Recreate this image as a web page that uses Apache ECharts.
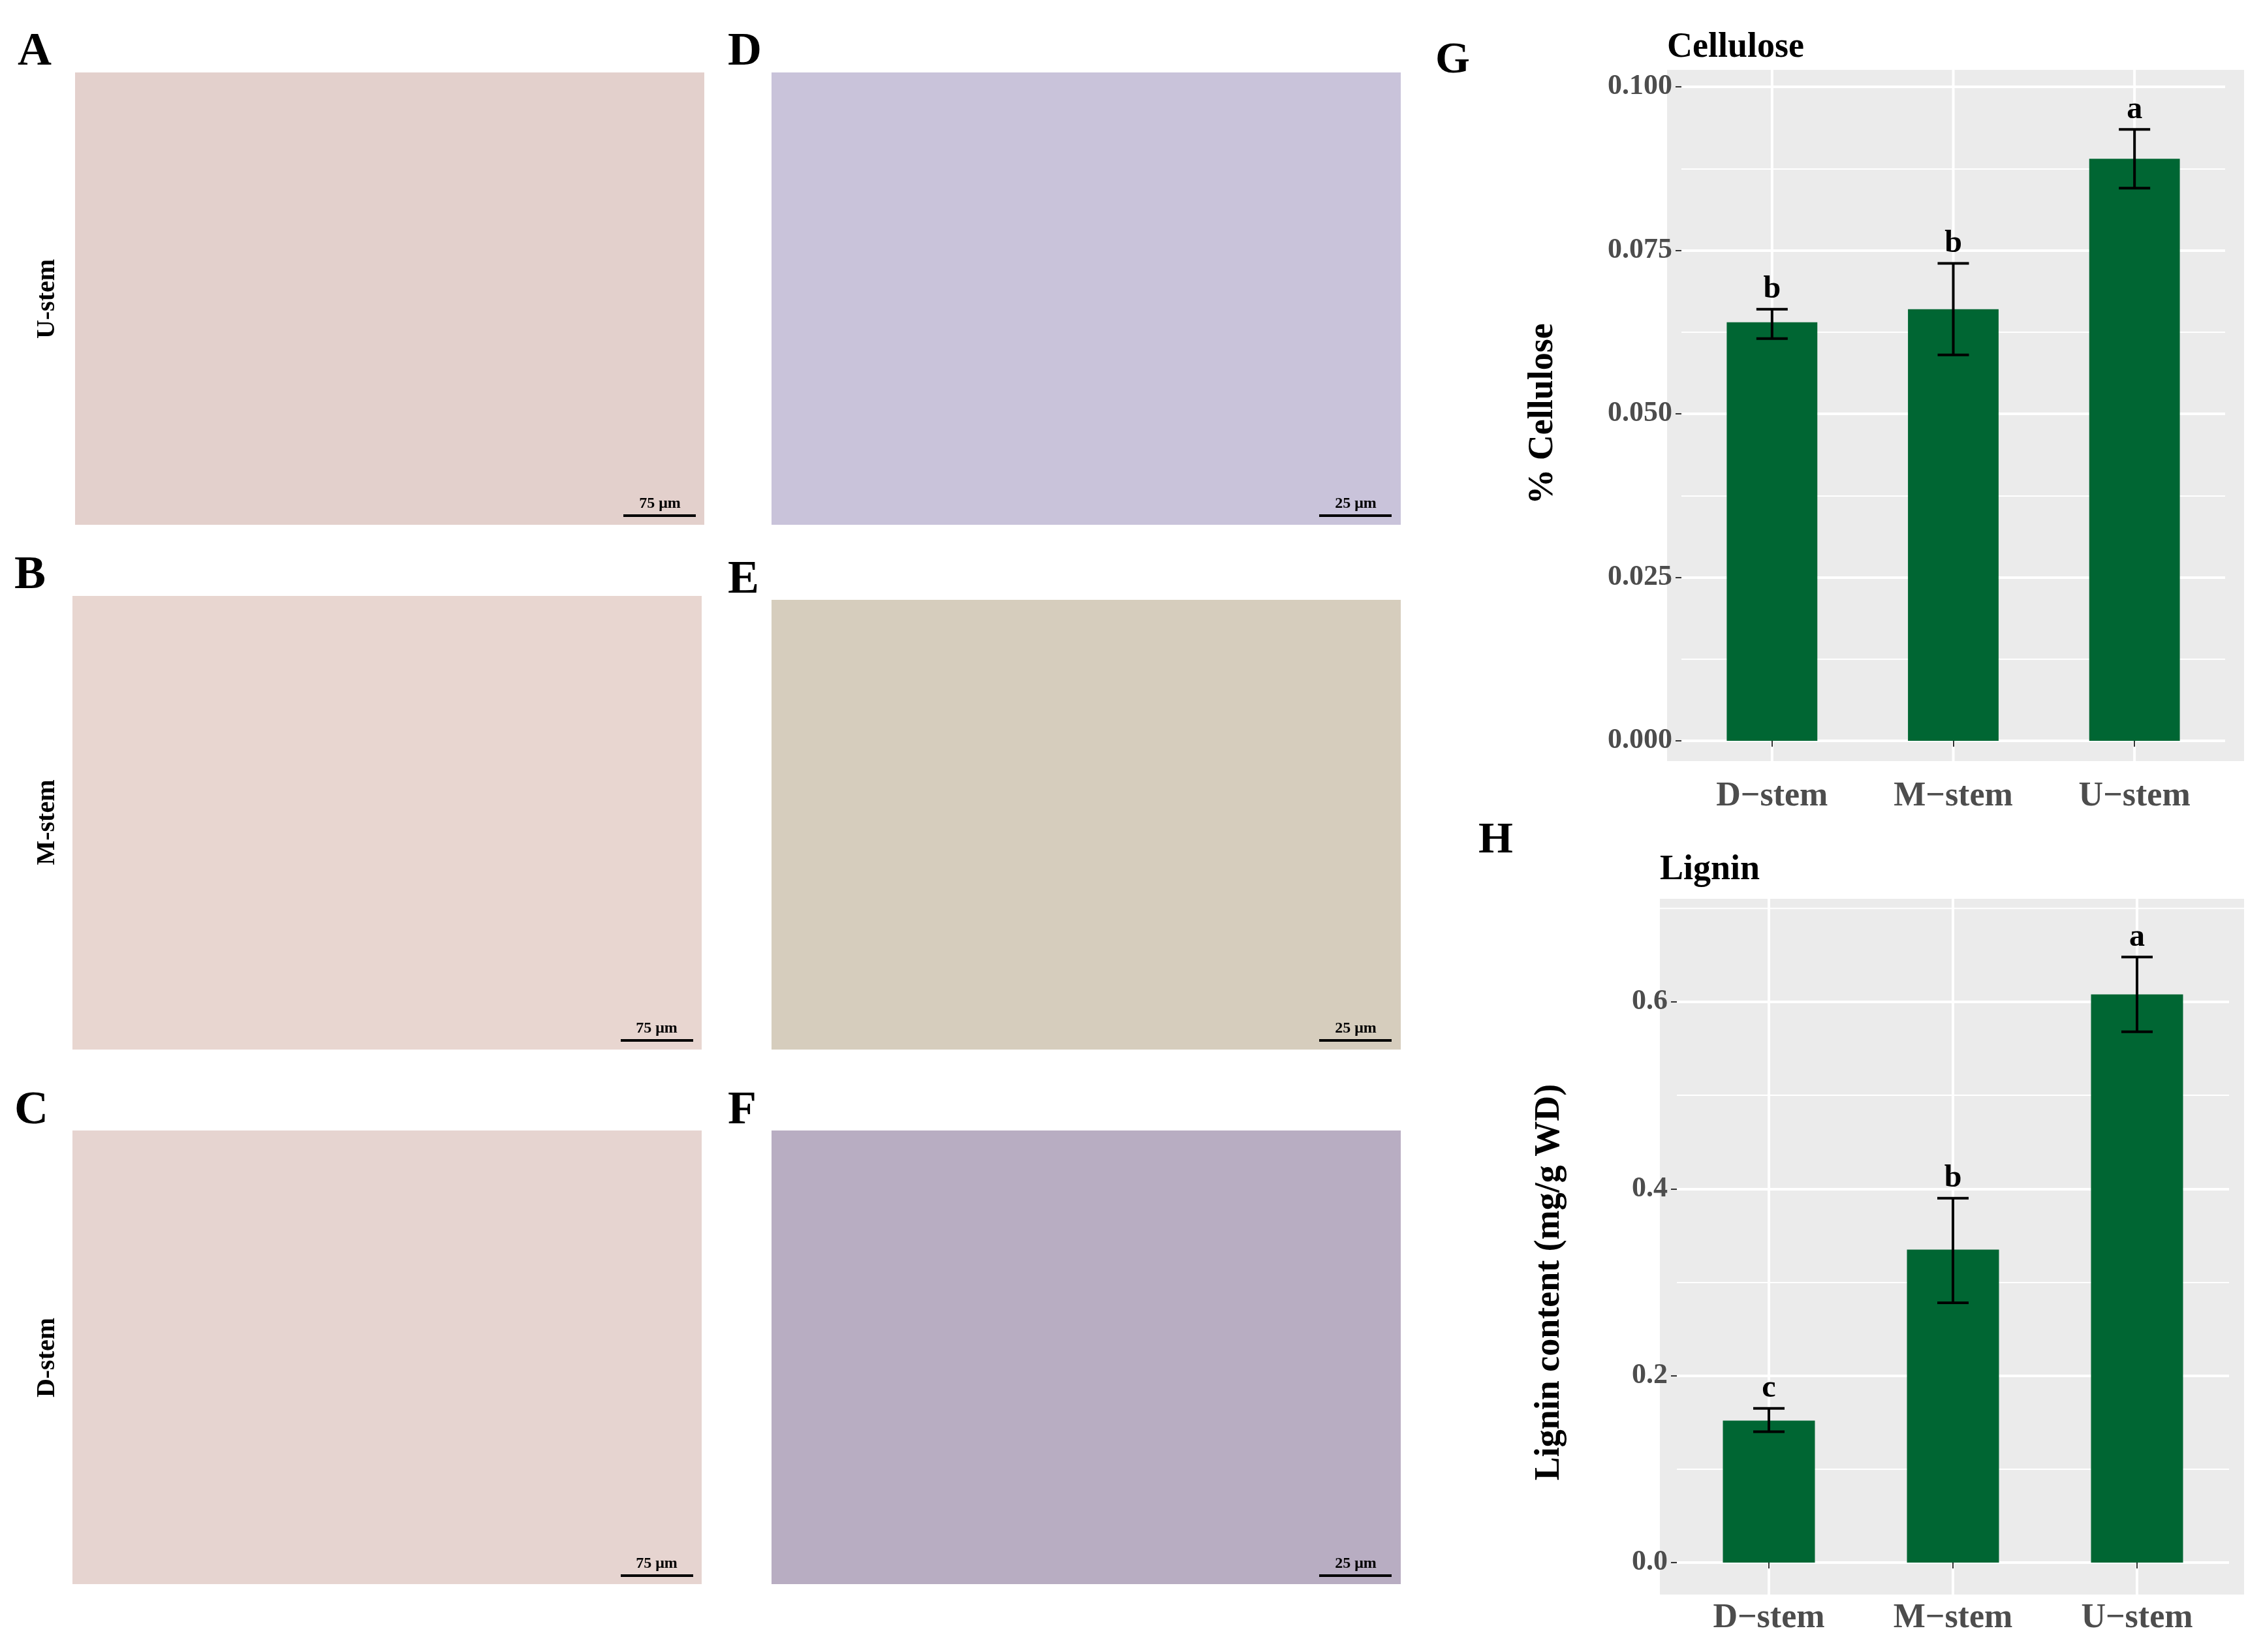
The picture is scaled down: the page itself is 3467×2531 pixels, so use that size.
<!DOCTYPE html>
<html><head><meta charset="utf-8">
<script src="https://cdn.jsdelivr.net/npm/echarts@6/dist/echarts.min.js"></script>
<style>html,body{margin:0;background:#fff}#c{width:3467px;height:2531px}</style></head>
<body><div id="c"></div>
<script>
const categories=['D\u2212stem','M\u2212stem','U\u2212stem'];
const celluloseMean=[0.064,0.066,0.089];
const celluloseLow=[0.0615,0.059,0.0845];
const celluloseHigh=[0.066,0.073,0.0935];
const celluloseSig=['b','b','a'];
const ligninMean=[0.152,0.335,0.608];
const ligninLow=[0.140,0.278,0.568];
const ligninHigh=[0.165,0.390,0.648];
const ligninSig=['c','b','a'];

const S=2.221, F='Liberation Serif';
const ch=echarts.init(document.getElementById('c'));
function p(v){return Math.round(v*S);}
const panels=[
 ['A',52,50,486,362,'#e3d0cc','75 μm','U-stem'],
 ['B',50,411,484,724,'#e8d6d0','75 μm','M-stem'],
 ['C',50,780,484,1093,'#e6d4d0','75 μm','D-stem'],
 ['D',532,50,966,362,'#c9c3da','25 μm',null],
 ['E',532,414,966,724,'#d6cdbd','25 μm',null],
 ['F',532,780,966,1093,'#b8adc2','25 μm',null]];
const graphic=[];
panels.forEach(q=>{
 graphic.push({type:'rect',shape:{x:p(q[1]),y:p(q[2]),width:p(q[3]-q[1]),height:p(q[4]-q[2])},style:{fill:q[5]},z:-5});
 const lx=q[0]<'D'?q[1]-40:q[1]-30;
 graphic.push({type:'text',x:p(lx),y:p(q[2]-30),style:{text:q[0],font:'bold 72px '+F,fill:'#000'}});
 graphic.push({type:'rect',shape:{x:p(q[3]-56),y:p(q[4]-7),width:p(50),height:4},style:{fill:'#000'}});
 graphic.push({type:'text',x:p(q[3]-31),y:p(q[4]-9),style:{text:q[6],font:'bold 24px '+F,fill:'#000',align:'center',verticalAlign:'bottom'}});
 if(q[7])graphic.push({type:'text',x:p(33),y:p((q[2]+q[4])/2),rotation:Math.PI/2,style:{text:q[7],font:'bold 40px '+F,fill:'#000',align:'center',verticalAlign:'middle'}});
});
graphic.push({type:'rect',shape:{x:2554,y:107,width:884,height:1059},style:{fill:'#ebebeb'},z:-10});
graphic.push({type:'rect',shape:{x:2543,y:1377,width:895,height:1066},style:{fill:'#ebebeb'},z:-10});
{const y=2394-(0.7/0.6)*859;graphic.push({type:'line',shape:{x1:2543,y1:y,x2:3438,y2:y},style:{stroke:'#fff',lineWidth:2},z:-9});}
[['G',2199,93],['H',2265,1288]].forEach(t=>graphic.push({type:'text',x:t[1],y:t[2],style:{text:t[0],font:'bold 68px '+F,fill:'#000',verticalAlign:'middle'}}));
[['Cellulose',2554,73],['Lignin',2543,1333]].forEach(t=>graphic.push({type:'text',x:t[1],y:t[2],style:{text:t[0],font:'bold 54px '+F,fill:'#000',verticalAlign:'middle'}}));

function vGrid(idx,top,bottom){
 return {type:'custom',xAxisIndex:idx,yAxisIndex:idx,z:0,silent:true,data:categories.map((c,i)=>[i]),
  renderItem:(params,api)=>{const a=api.coord([api.value(0),0]);
   return {type:'line',shape:{x1:a[0],y1:top,x2:a[0],y2:bottom},style:{stroke:'#fff',lineWidth:4}};}};
}
function errSeries(idx,low,high,sig){
 return {type:'custom',xAxisIndex:idx,yAxisIndex:idx,z:5,data:categories.map((c,i)=>[i,low[i],high[i]]),
 renderItem:(params,api)=>{const a=api.coord([api.value(0),api.value(1)]),b=api.coord([api.value(0),api.value(2)]);const w=24;
  const st={stroke:'#000',lineWidth:4};
  return {type:'group',children:[
   {type:'line',shape:{x1:a[0],y1:a[1],x2:b[0],y2:b[1]},style:st},
   {type:'line',shape:{x1:a[0]-w,y1:a[1],x2:a[0]+w,y2:a[1]},style:st},
   {type:'line',shape:{x1:b[0]-w,y1:b[1],x2:b[0]+w,y2:b[1]},style:st},
   {type:'text',x:b[0],y:b[1]-6,style:{text:sig[params.dataIndex],font:'bold 48px '+F,fill:'#000',align:'center',verticalAlign:'bottom'}}]};}};
}
function yAx(idx,max,interval,name,nameGap,fmt){return {gridIndex:idx,type:'value',min:0,max:max,interval:interval,
 name:name,nameLocation:'middle',nameGap:nameGap,nameTextStyle:{fontFamily:F,fontWeight:'bold',fontSize:54,color:'#000'},
 axisLine:{show:false},axisTick:{show:true,length:9,lineStyle:{color:'#333',width:2}},
 axisLabel:{fontFamily:F,fontWeight:'bold',fontSize:44,color:'#4d4d4d',margin:14,formatter:fmt},
 splitLine:{lineStyle:{color:'#fff',width:4}},minorTick:{show:false,splitNumber:2},minorSplitLine:{show:true,lineStyle:{color:'#fff',width:2}}};}
function xAx(idx){return {gridIndex:idx,type:'category',data:categories,axisLine:{show:false},
 axisTick:{show:true,alignWithLabel:true,length:9,lineStyle:{color:'#333',width:2}},
 axisLabel:{fontFamily:F,fontWeight:'bold',fontSize:52,color:'#4d4d4d',margin:60},
 splitLine:{show:false}};}
ch.setOption({animation:false,graphic:graphic,
 grid:[{left:2576,width:833,top:133,height:1002},{left:2569,width:846,top:1535,height:859}],
 xAxis:[xAx(0),xAx(1)],
 yAxis:[yAx(0,0.1,0.025,'% Cellulose',185,v=>v.toFixed(3)),yAx(1,0.6,0.2,'Lignin content (mg/g WD)',168,v=>v.toFixed(1))],
 series:[
  vGrid(0,107,1166),
  {type:'bar',xAxisIndex:0,yAxisIndex:0,data:celluloseMean,barWidth:'50%',clip:false,z:2,itemStyle:{color:'#006633'}},
  errSeries(0,celluloseLow,celluloseHigh,celluloseSig),
  vGrid(1,1377,2443),
  {type:'bar',xAxisIndex:1,yAxisIndex:1,data:ligninMean,barWidth:'50%',clip:false,z:2,itemStyle:{color:'#006633'}},
  errSeries(1,ligninLow,ligninHigh,ligninSig)]});
</script></body></html>
